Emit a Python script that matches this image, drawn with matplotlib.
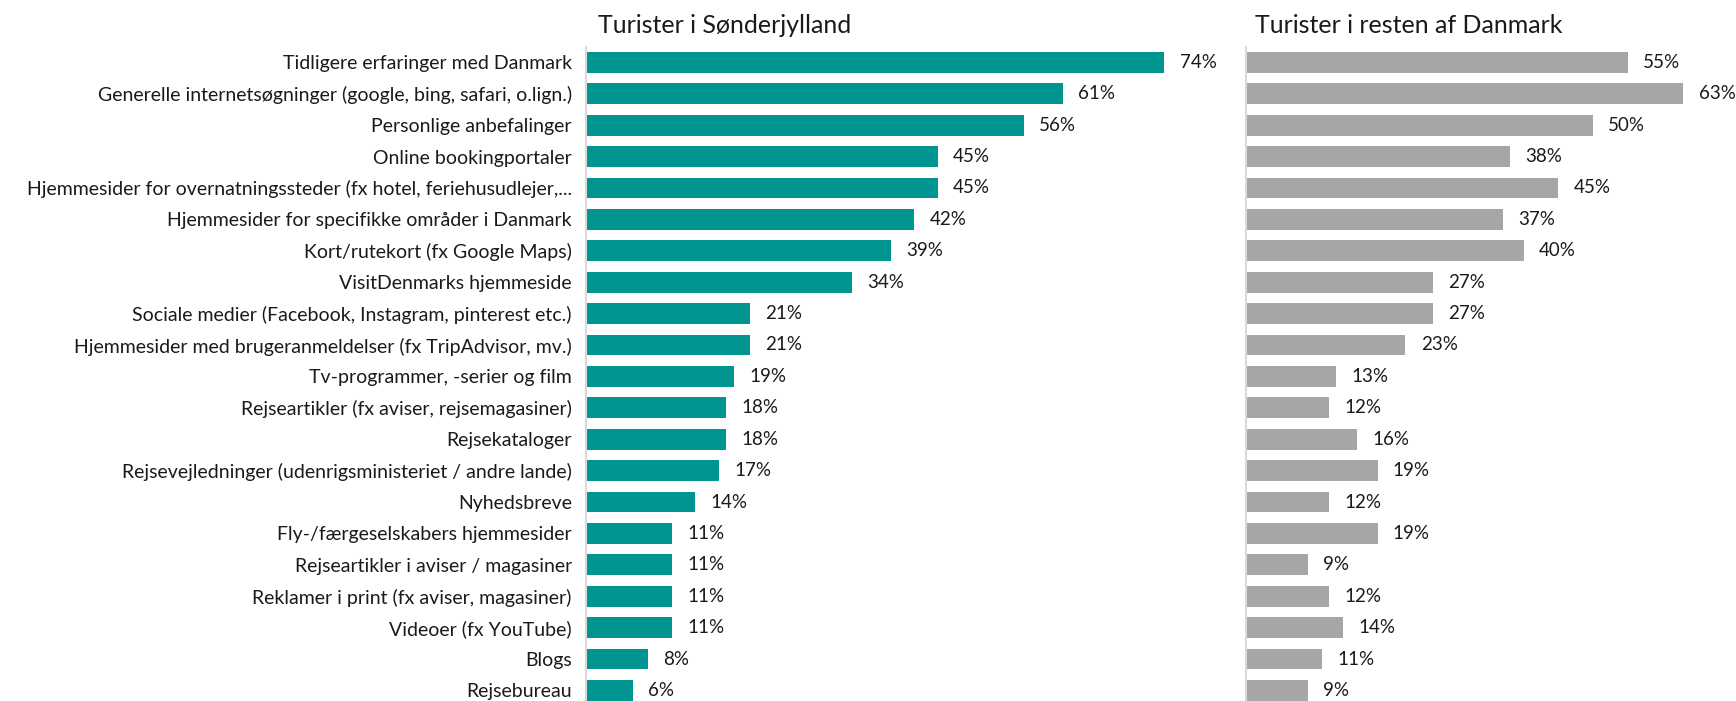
import matplotlib
matplotlib.use("Agg")
import matplotlib.pyplot as plt

plt.rcParams['font.family'] = ['Lato', 'DejaVu Sans']

# kategorier (oppefra og ned)
categories = [
    "Tidligere erfaringer med Danmark",
    "Generelle internetsøgninger (google, bing, safari, o.lign.)",
    "Personlige anbefalinger",
    "Online bookingportaler",
    "Hjemmesider for overnatningssteder (fx hotel, feriehusudlejer,...",
    "Hjemmesider for specifikke områder i Danmark",
    "Kort/rutekort (fx Google Maps)",
    "VisitDenmarks hjemmeside",
    "Sociale medier (Facebook, Instagram, pinterest etc.)",
    "Hjemmesider med brugeranmeldelser (fx TripAdvisor, mv.)",
    "Tv-programmer, -serier og film",
    "Rejseartikler (fx aviser, rejsemagasiner)",
    "Rejsekataloger",
    "Rejsevejledninger (udenrigsministeriet / andre lande)",
    "Nyhedsbreve",
    "Fly-/færgeselskabers hjemmesider",
    "Rejseartikler i aviser / magasiner",
    "Reklamer i print (fx aviser, magasiner)",
    "Videoer (fx YouTube)",
    "Blogs",
    "Rejsebureau",
]
sonderjylland = [74, 61, 56, 45, 45, 42, 39, 34, 21, 21, 19, 18, 18, 17, 14, 11, 11, 11, 11, 8, 6]
resten = [55, 63, 50, 38, 45, 37, 40, 27, 27, 23, 13, 12, 16, 19, 12, 19, 9, 12, 14, 11, 9]

titles = ["Turister i Sønderjylland", "Turister i resten af Danmark"]
colors = ["#009590", "#a6a6a6"]

fig = plt.figure(figsize=(17.36, 7.01), dpi=100)
ax1 = fig.add_axes([0.3374, -0.0074, 0.3604, 0.9409])
ax2 = fig.add_axes([0.7175, -0.0074, 0.2802, 0.9409])

y = list(range(len(categories)))
for ax, vals, col, title, xmax in [(ax1, sonderjylland, colors[0], titles[0], 80),
                                    (ax2, resten, colors[1], titles[1], 70)]:
    ax.barh(y, vals, height=0.66, color=col)
    ax.set_xlim(0, xmax)
    ax.set_ylim(len(categories) - 0.5, -0.5)
    for i, v in enumerate(vals):
        ax.annotate(f"{v}%", (v, i), xytext=(11, 0), textcoords="offset points",
                    va="center", ha="left", fontsize=13.5, color="#1a1a1a")
    ax.set_xticks([])
    for s in ["top", "right", "bottom"]:
        ax.spines[s].set_visible(False)
    ax.spines["left"].set_color("#d9d9d9")
    ax.spines["left"].set_linewidth(1.5)
    ax.text(0.02, 1.02, title, transform=ax.transAxes, fontsize=18,
            ha="left", va="baseline", color="#1a1a1a")

ax1.set_yticks(y)
ax1.set_yticklabels(categories, fontsize=14, color="#1a1a1a")
ax1.tick_params(axis="y", length=0, pad=10)
ax2.set_yticks([])

fig.savefig("out.png", dpi=100)
